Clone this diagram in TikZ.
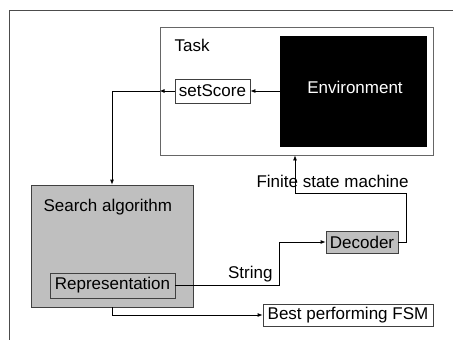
\documentclass[tikz,border=0pt]{standalone}
\usepackage{fontspec}
\setmainfont{Liberation Sans}
\usetikzlibrary{arrows.meta}

\begin{document}
\begin{tikzpicture}[x=1pt,y=-1pt, font=\fontsize{17}{20}\selectfont,
		box/.style={draw=black!75, line width=0.8pt, inner sep=0pt},
		graybox/.style={box, fill=black!25},
		flow/.style={-{Latex[length=5pt,width=4pt]}, line width=0.8pt}]
		\useasboundingbox (0,0) rectangle (453,340);
		\draw[black!70, line width=1pt] (9.5,340) -- (9.5,10.5) -- (453,10.5);
		% task block
		\node[box, draw=black!60, minimum width=273pt, minimum height=128pt] (task) at (296.5,91) {};
		\node[anchor=base west] (tasklbl) at (171,52) {Task};
		\node[fill=black, inner sep=0pt, minimum width=147pt, minimum height=111pt] (env) at (353.5,91.5) {};
		\node[text=white, anchor=base] (envlbl) at (355,93) {Environment};
		\node[box, minimum width=75pt, minimum height=24pt] (set) at (212.5,91) {setScore};
		% search block
		\node[graybox, minimum width=162pt, minimum height=122pt] (search) at (112,246) {};
		\node[anchor=base west] (searchlbl) at (40,211) {Search algorithm};
		\node[graybox, minimum width=125pt, minimum height=25pt] (rep) at (112.5,285.5) {Representation};
		\node[graybox, minimum width=72pt, minimum height=22pt] (dec) at (362,242) {Decoder};
		\node[box, minimum width=170pt, minimum height=22pt] (best) at (348,315) {Best performing FSM};
		% connectors
		\coordinate (taskin) at (task.west |- set);
		\coordinate (strbend) at (279,285.5);
		\coordinate (fsmright) at (406,193);
		\coordinate (fsmup) at (295,193);
		\draw[flow] (env.west |- set) -- (set.east);
		\draw[flow] (set.west) -- (taskin);
		\draw[flow] (taskin) -| (search.north);
		\draw[flow] (rep.east) -- (strbend) |- (dec.west);
		\node[anchor=base east] (strlbl) at (276,278) {String};
		\draw[flow] (dec.east) -| (fsmright) -- (fsmup) -- (fsmup |- task.south);
		\node[anchor=base west] (fsmlbl) at (253,187) {Finite state machine};
		\draw[flow] (search.south) |- (best.west);
	\end{tikzpicture}
\end{document}
